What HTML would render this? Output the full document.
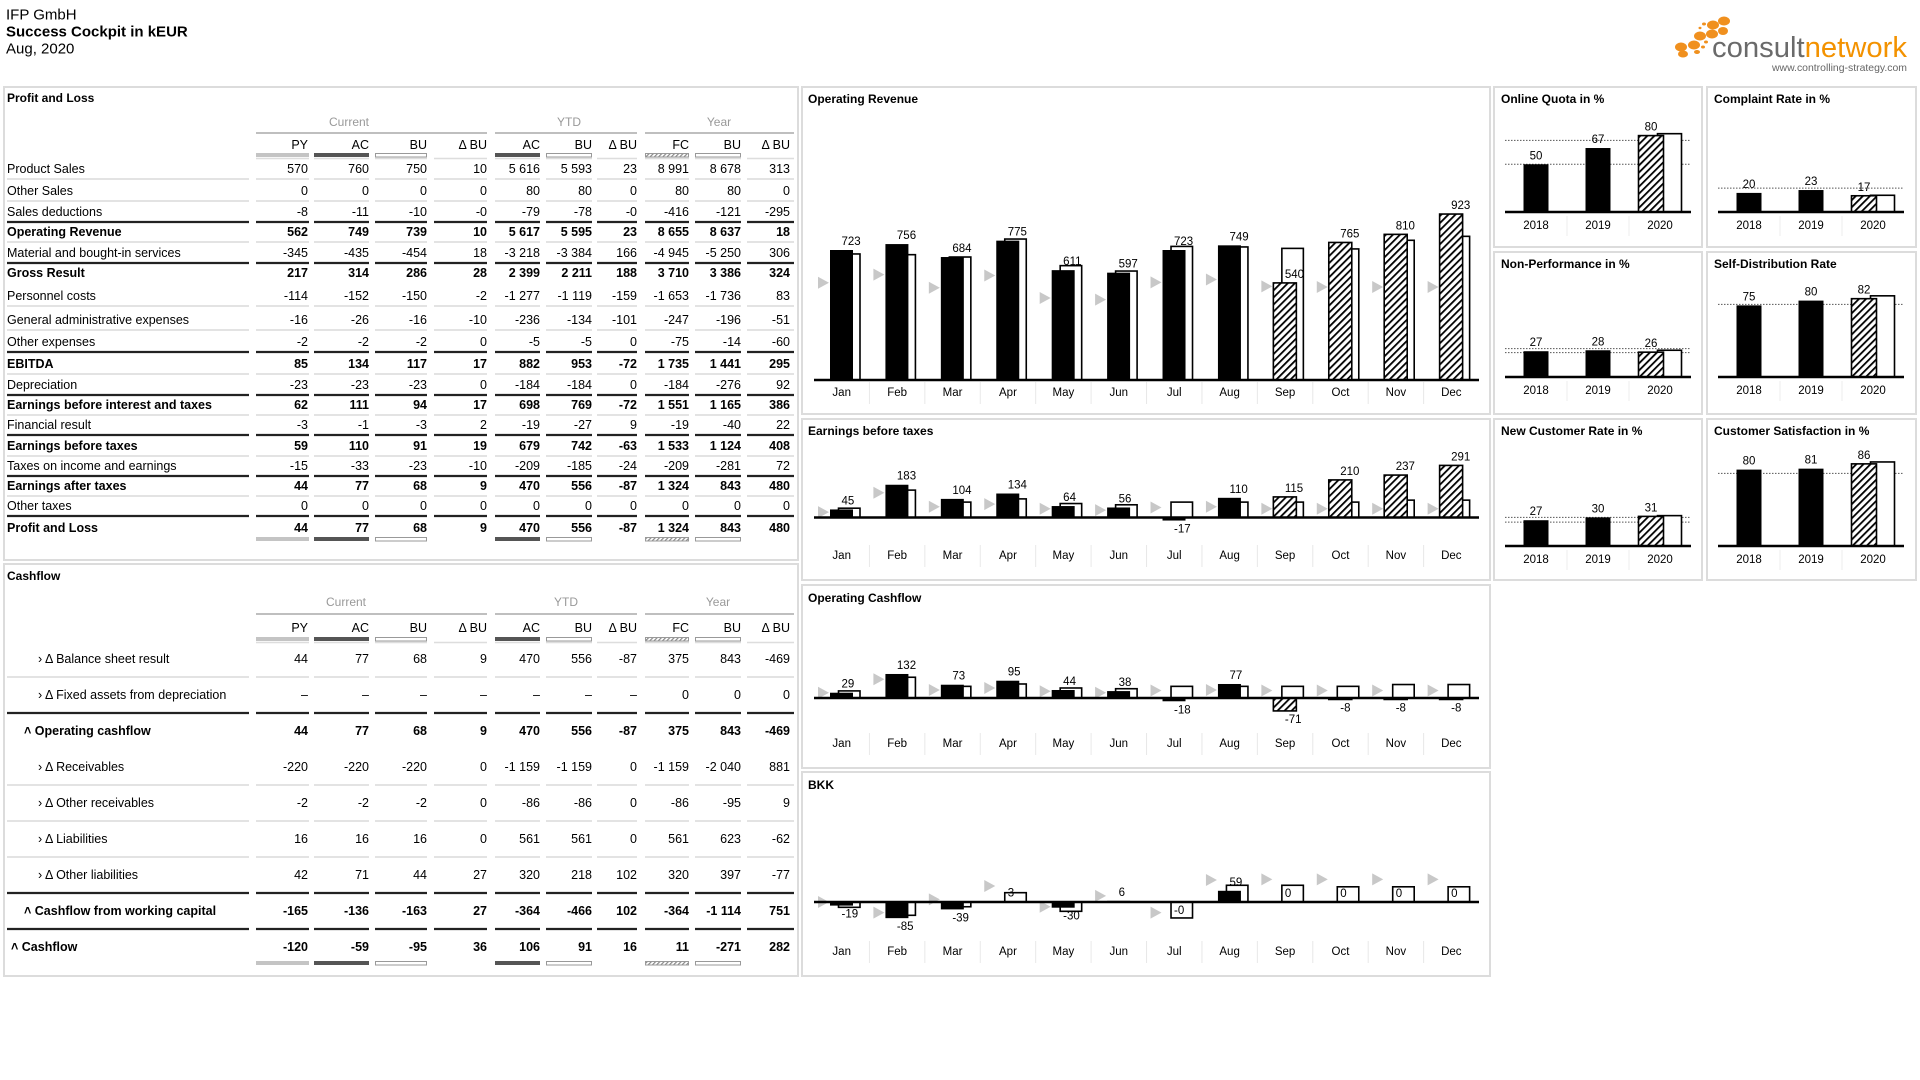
<!DOCTYPE html>
<html><head><meta charset="utf-8">
<style>
html,body{margin:0;padding:0;background:#fff;width:1920px;height:1080px;overflow:hidden}
svg{position:absolute;left:0;top:0}
text{font-family:"Liberation Sans Narrow","Liberation Sans",sans-serif}
.h{font-family:"Liberation Sans",sans-serif}
</style></head><body>
<svg id="s" width="1920" height="1080" xmlns="http://www.w3.org/2000/svg"></svg>
<script>
let o='';
o+=`<defs><pattern id="hatch" patternUnits="userSpaceOnUse" width="5" height="5" patternTransform="rotate(45)"><rect width="5" height="5" fill="#fff"/><rect width="1.8" height="5" fill="#000"/></pattern>
<pattern id="hatchg" patternUnits="userSpaceOnUse" width="3" height="3" patternTransform="rotate(45)"><rect width="3" height="3" fill="#fff"/><rect width="1.2" height="3" fill="#888"/></pattern></defs>`;
function T(x,y,s,a){a=a||{};return `<text x="${x}" y="${y}" dominant-baseline="central" font-size="${a.fs||12}" ${a.anchor?`text-anchor="${a.anchor}"`:''} ${a.bold?'font-weight="bold"':''} fill="${a.fill||'#000'}" ${a.cls?`class="${a.cls}"`:''}>${s}</text>`;}
function R(x,y,w,h,f,st,sw){return `<rect x="${x}" y="${y}" width="${w}" height="${h}" fill="${f}" ${st?`stroke="${st}" stroke-width="${sw||1}"`:''}/>`;}
function L(x1,y1,x2,y2,c,w,d){return `<line x1="${x1}" y1="${y1}" x2="${x2}" y2="${y2}" stroke="${c}" stroke-width="${w||1}" ${d?`stroke-dasharray="${d}"`:''}/>`;}
// header
o+=T(6,15,'IFP GmbH',{fs:15,cls:'h'});
o+=T(6,32,'Success Cockpit in kEUR',{fs:15,bold:1,cls:'h'});
o+=T(6,49,'Aug, 2020',{fs:15,cls:'h'});
// logo
[[1713,25,6,4.5],[1724,21,6,4.5],[1700,36,6,4.5],[1712,34,6,4.5],[1723,31,5,4],[1681,47,6,4.5],[1694,45,6,4.5],[1683,54,5,3.5],[1697,52,3,2],[1703,47,2,1.5],[1704,24,2,1.5],[1700,28,1.5,1.2],[1706,42,2,1.5]].forEach(d=>{o+=`<ellipse cx="${d[0]}" cy="${d[1]}" rx="${d[2]}" ry="${d[3]}" fill="#f0901e"/>`;});
o+=`<text x="1712" y="57" font-size="29" class="h" textLength="195" lengthAdjust="spacingAndGlyphs"><tspan fill="#6a6a6a">consult</tspan><tspan fill="#f39200">network</tspan></text>`;
o+=`<text x="1772" y="71" font-size="10.5" class="h" fill="#666" textLength="135" lengthAdjust="spacingAndGlyphs">www.controlling-strategy.com</text>`;
// panels
function P(x,y,w,h,t,tx,ty){o+=R(x,y,w,h,'#fff','#dcdcdc',2);if(t)o+=T(x+(tx||4),y+(ty||11),t,{fs:12,bold:1,cls:'h'});}
P(4,87,794,473,'Profit and Loss',3,11);
P(4,564,794,412,'Cashflow',3,12);
P(802,87,688,327,'Operating Revenue',6,12);
P(802,419,688,161,'Earnings before taxes',6,12);
P(802,585,688,183,'Operating Cashflow',6,13);
P(802,772,688,204,'BKK',6,13);
const sp=[[1494,87,208,160,'Online Quota in %'],[1707,87,209,160,'Complaint Rate in %'],[1494,252,208,162,'Non-Performance in %'],[1707,252,209,162,'Self-Distribution Rate'],[1494,419,208,161,'New Customer Rate in %'],[1707,419,209,161,'Customer Satisfaction in %']];
sp.forEach(p=>P(p[0],p[1],p[2],p[3],p[4],7,12));
// tables
const R_=[308,369,427,487,540,592,637,689,741,790];
const SG=[[256,309],[314,369],[375,427],[434,487],[495,540],[546,592],[597,637],[645,689],[695,741],[747,794]];
const HD=['PY','AC','BU','Δ BU','AC','BU','Δ BU','FC','BU','Δ BU'];
const LG=['py','ac','bu',null,'ac','bu',null,'fc','bu',null];
function legend(y){SG.forEach((s,i)=>{const t=LG[i];if(!t)return;const w=s[1]-s[0];
 if(t=='py')o+=R(s[0],y,w,4,'#c4c4c4');
 if(t=='ac')o+=R(s[0],y,w,4,'#555');
 if(t=='bu')o+=R(s[0]+0.5,y+0.5,w-1,3.5,'#fff','#999',1);
 if(t=='fc')o+=R(s[0]+0.5,y+0.5,w-1,3.5,'url(#hatchg)','#999',1);});}
function header(gy,gly,hy,ly,lineY,groups){
 groups.forEach(g=>{o+=T(g[2],gy,g[3],{fs:12,anchor:'middle',fill:'#999'});o+=L(g[0],gly,g[1],gly,'#aaa',1.5);});
 HD.forEach((h,i)=>o+=T(R_[i],hy,h,{fs:12.5,anchor:'end'}));
 legend(ly);
 SG.forEach(s=>o+=L(s[0],lineY,s[1],lineY,'#ddd',1.5));
}
function sep(y,type,lx){const c=type=='d'?'#222':'#e3e3e3',w=type=='d'?2.2:2;
 o+=L(lx||7,y,249,y,c,w);SG.forEach(s=>o+=L(s[0],y,s[1],y,c,w));}
header(122,133,145,153,158.5,[[256,487,349,'Current'],[495,637,569,'YTD'],[645,794,719,'Year']]);
const PL=[
['Product Sales',169,0,'l',['570','760','750','10','5 616','5 593','23','8 991','8 678','313']],
['Other Sales',191,0,'l',['0','0','0','0','80','80','0','80','80','0']],
['Sales deductions',212,0,'d',['-8','-11','-10','-0','-79','-78','-0','-416','-121','-295']],
['Operating Revenue',232,1,'l',['562','749','739','10','5 617','5 595','23','8 655','8 637','18']],
['Material and bought-in services',253,0,'d',['-345','-435','-454','18','-3 218','-3 384','166','-4 945','-5 250','306']],
['Gross Result',273,1,'',['217','314','286','28','2 399','2 211','188','3 710','3 386','324']],
['Personnel costs',296,0,'l',['-114','-152','-150','-2','-1 277','-1 119','-159','-1 653','-1 736','83']],
['General administrative expenses',320,0,'l',['-16','-26','-16','-10','-236','-134','-101','-247','-196','-51']],
['Other expenses',342,0,'d',['-2','-2','-2','0','-5','-5','0','-75','-14','-60']],
['EBITDA',364,1,'l',['85','134','117','17','882','953','-72','1 735','1 441','295']],
['Depreciation',385,0,'d',['-23','-23','-23','0','-184','-184','0','-184','-276','92']],
['Earnings before interest and taxes',405,1,'l',['62','111','94','17','698','769','-72','1 551','1 165','386']],
['Financial result',425,0,'d',['-3','-1','-3','2','-19','-27','9','-19','-40','22']],
['Earnings before taxes',446,1,'l',['59','110','91','19','679','742','-63','1 533','1 124','408']],
['Taxes on income and earnings',466,0,'d',['-15','-33','-23','-10','-209','-185','-24','-209','-281','72']],
['Earnings after taxes',486,1,'l',['44','77','68','9','470','556','-87','1 324','843','480']],
['Other taxes',506,0,'d',['0','0','0','0','0','0','0','0','0','0']],
['Profit and Loss',528,1,'',['44','77','68','9','470','556','-87','1 324','843','480']]];
PL.forEach(r=>{o+=T(7,r[1],r[0],{fs:12.5,bold:r[2]});r[4].forEach((v,i)=>o+=T(R_[i],r[1],v,{fs:12.5,bold:r[2],anchor:'end'}));if(r[3])sep(r[1]+10,r[3]);});
legend(537);
// cashflow
header(602,614,628,637,642.5,[[256,487,346,'Current'],[495,637,566,'YTD'],[645,794,718,'Year']]);
const CF=[
['› Δ Balance sheet result',659,38,0,'l',['44','77','68','9','470','556','-87','375','843','-469']],
['› Δ Fixed assets from depreciation',695,38,0,'d',['–','–','–','–','–','–','–','0','0','0']],
['˄ Operating cashflow',731,24,1,'',['44','77','68','9','470','556','-87','375','843','-469']],
['› Δ Receivables',767,38,0,'l',['-220','-220','-220','0','-1 159','-1 159','0','-1 159','-2 040','881']],
['› Δ Other receivables',803,38,0,'l',['-2','-2','-2','0','-86','-86','0','-86','-95','9']],
['› Δ Liabilities',839,38,0,'l',['16','16','16','0','561','561','0','561','623','-62']],
['› Δ Other liabilities',875,38,0,'d',['42','71','44','27','320','218','102','320','397','-77']],
['˄ Cashflow from working capital',911,24,1,'d',['-165','-136','-163','27','-364','-466','102','-364','-1 114','751']],
['˄ Cashflow',947,11,1,'',['-120','-59','-95','36','106','91','16','11','-271','282']]];
CF.forEach(r=>{o+=T(r[2],r[1],r[0],{fs:12.5,bold:r[3]});r[5].forEach((v,i)=>o+=T(R_[i],r[1],v,{fs:12.5,bold:r[3],anchor:'end'}));if(r[4])sep(r[1]+18,r[4]);});
legend(961);
// month charts
const MO=['Jan','Feb','Mar','Apr','May','Jun','Jul','Aug','Sep','Oct','Nov','Dec'];
function MC(bY,sc,lY,AC,BU,PY,lbl){
 const sw=55.42;
 for(let i=0;i<12;i++){const x0=814+i*sw;
  const bu=BU[i]*sc;
  if(BU[i]!=0)o+=R(x0+24.5,bu>0?bY-bu:bY,21.5,Math.abs(bu),'#fff','#000',1.6);
  const a=AC[i]*sc, fc=i>=8;
  if(Math.abs(a)>0.3)o+=R(x0+16,a>0?bY-a:bY,23,Math.abs(a),fc?'url(#hatch)':'#000',fc?'#000':null,1.6);
  const py=bY-PY[i]*sc;
  o+=`<polygon points="${x0+4},${py-6} ${x0+15},${py} ${x0+4},${py+6}" fill="#c8c8c8"/>`;
  const lab=lbl?lbl[i]:String(AC[i]);
  if(lab!==''){
   if(AC[i]<0||lab=='-0')o+=T(x0+27.5,bY+Math.max(-a,0)+9,lab,{fs:11.5});
   else o+=T(x0+27.5,bY-a-8,lab,{fs:11.5});}
  o+=T(x0+27.7,lY,MO[i],{fs:11.5,anchor:'middle'});
  if(i>0)o+=L(x0,lY-11,x0,lY+11,'#e8e8e8',1);
 }
 o+=L(814,bY,1479,bY,'#000',2.6);
}
function mid(lbls){return lbls.map(s=>s);}
// adjust label anchor: use middle
const _T=T;
MC(380,0.1798,393,[723,756,684,775,611,597,723,749,540,765,810,923],[701,697,684,784,636,606,743,740,732,729,777,799],[541,586,513,581,456,447,543,559,521,517,517,517]);
MC(517.5,0.179,556,[45,183,104,134,64,56,-17,110,115,210,237,291],[52,153,86,104,78,71,86,86,86,86,97,97],[30,138,60,75,49,41,56,60,49,49,49,49]);
MC(698,0.182,744,[29,132,73,95,44,38,-18,77,-71,-8,-8,-8],[39,114,64,77,55,51,64,64,64,64,74,74],[29,103,44,55,37,29,41,44,41,41,41,41]);
MC(902,0.19,952,[-19,-85,-39,3,-30,6,0,59,0,0,0,0],[-28,-70,-25,49,-49,0,-84,88,88,80,80,80],[0,-56,14,84,-25,32,-56,116,119,119,119,119],['-19','-85','-39','3','-30','6','-0','59','0','0','0','0']);
// small charts
function SC(px,bY,v,bu,dots){const sc=0.955,ax=px+11;
 dots.forEach(d=>o+=L(ax,bY-d*sc,ax+186,bY-d*sc,'#555',1,'1.5 1.5'));
 for(let k=0;k<3;k++){const c=ax+31+k*62;
  if(k<2){o+=R(c-12.5,bY-v[k]*sc,25,v[k]*sc,'#000');o+=T(c,bY-v[k]*sc-8,v[k],{fs:11.5,anchor:'middle',cls:'h'});}
  else{o+=R(c-2.5,bY-bu*sc,24,bu*sc,'#fff','#000',1.6);o+=R(c-21.5,bY-v[k]*sc,25,v[k]*sc,'url(#hatch)','#000',1.6);o+=T(c-9,bY-v[k]*sc-8,v[k],{fs:11.5,anchor:'middle',cls:'h'});}
  o+=T(c,bY+14,2018+k,{fs:11.5,anchor:'middle',cls:'h'});
  if(k>0)o+=L(ax+k*62,bY+4,ax+k*62,bY+24,'#eee',1);
 }
 o+=L(ax,bY,ax+186,bY,'#000',2.6);
}
SC(1494,212,[50,67,80],82,[50,75]);
SC(1707,212,[20,23,17],17.5,[25]);
SC(1494,377,[27,28,26],28,[29.7,25.5]);
SC(1707,377,[75,80,82],85,[76]);
SC(1494,546,[27,30,31],31.8,[30,25]);
SC(1707,546,[80,81,86],88,[76]);
document.getElementById('s').innerHTML=o;
</script>
</body></html>
